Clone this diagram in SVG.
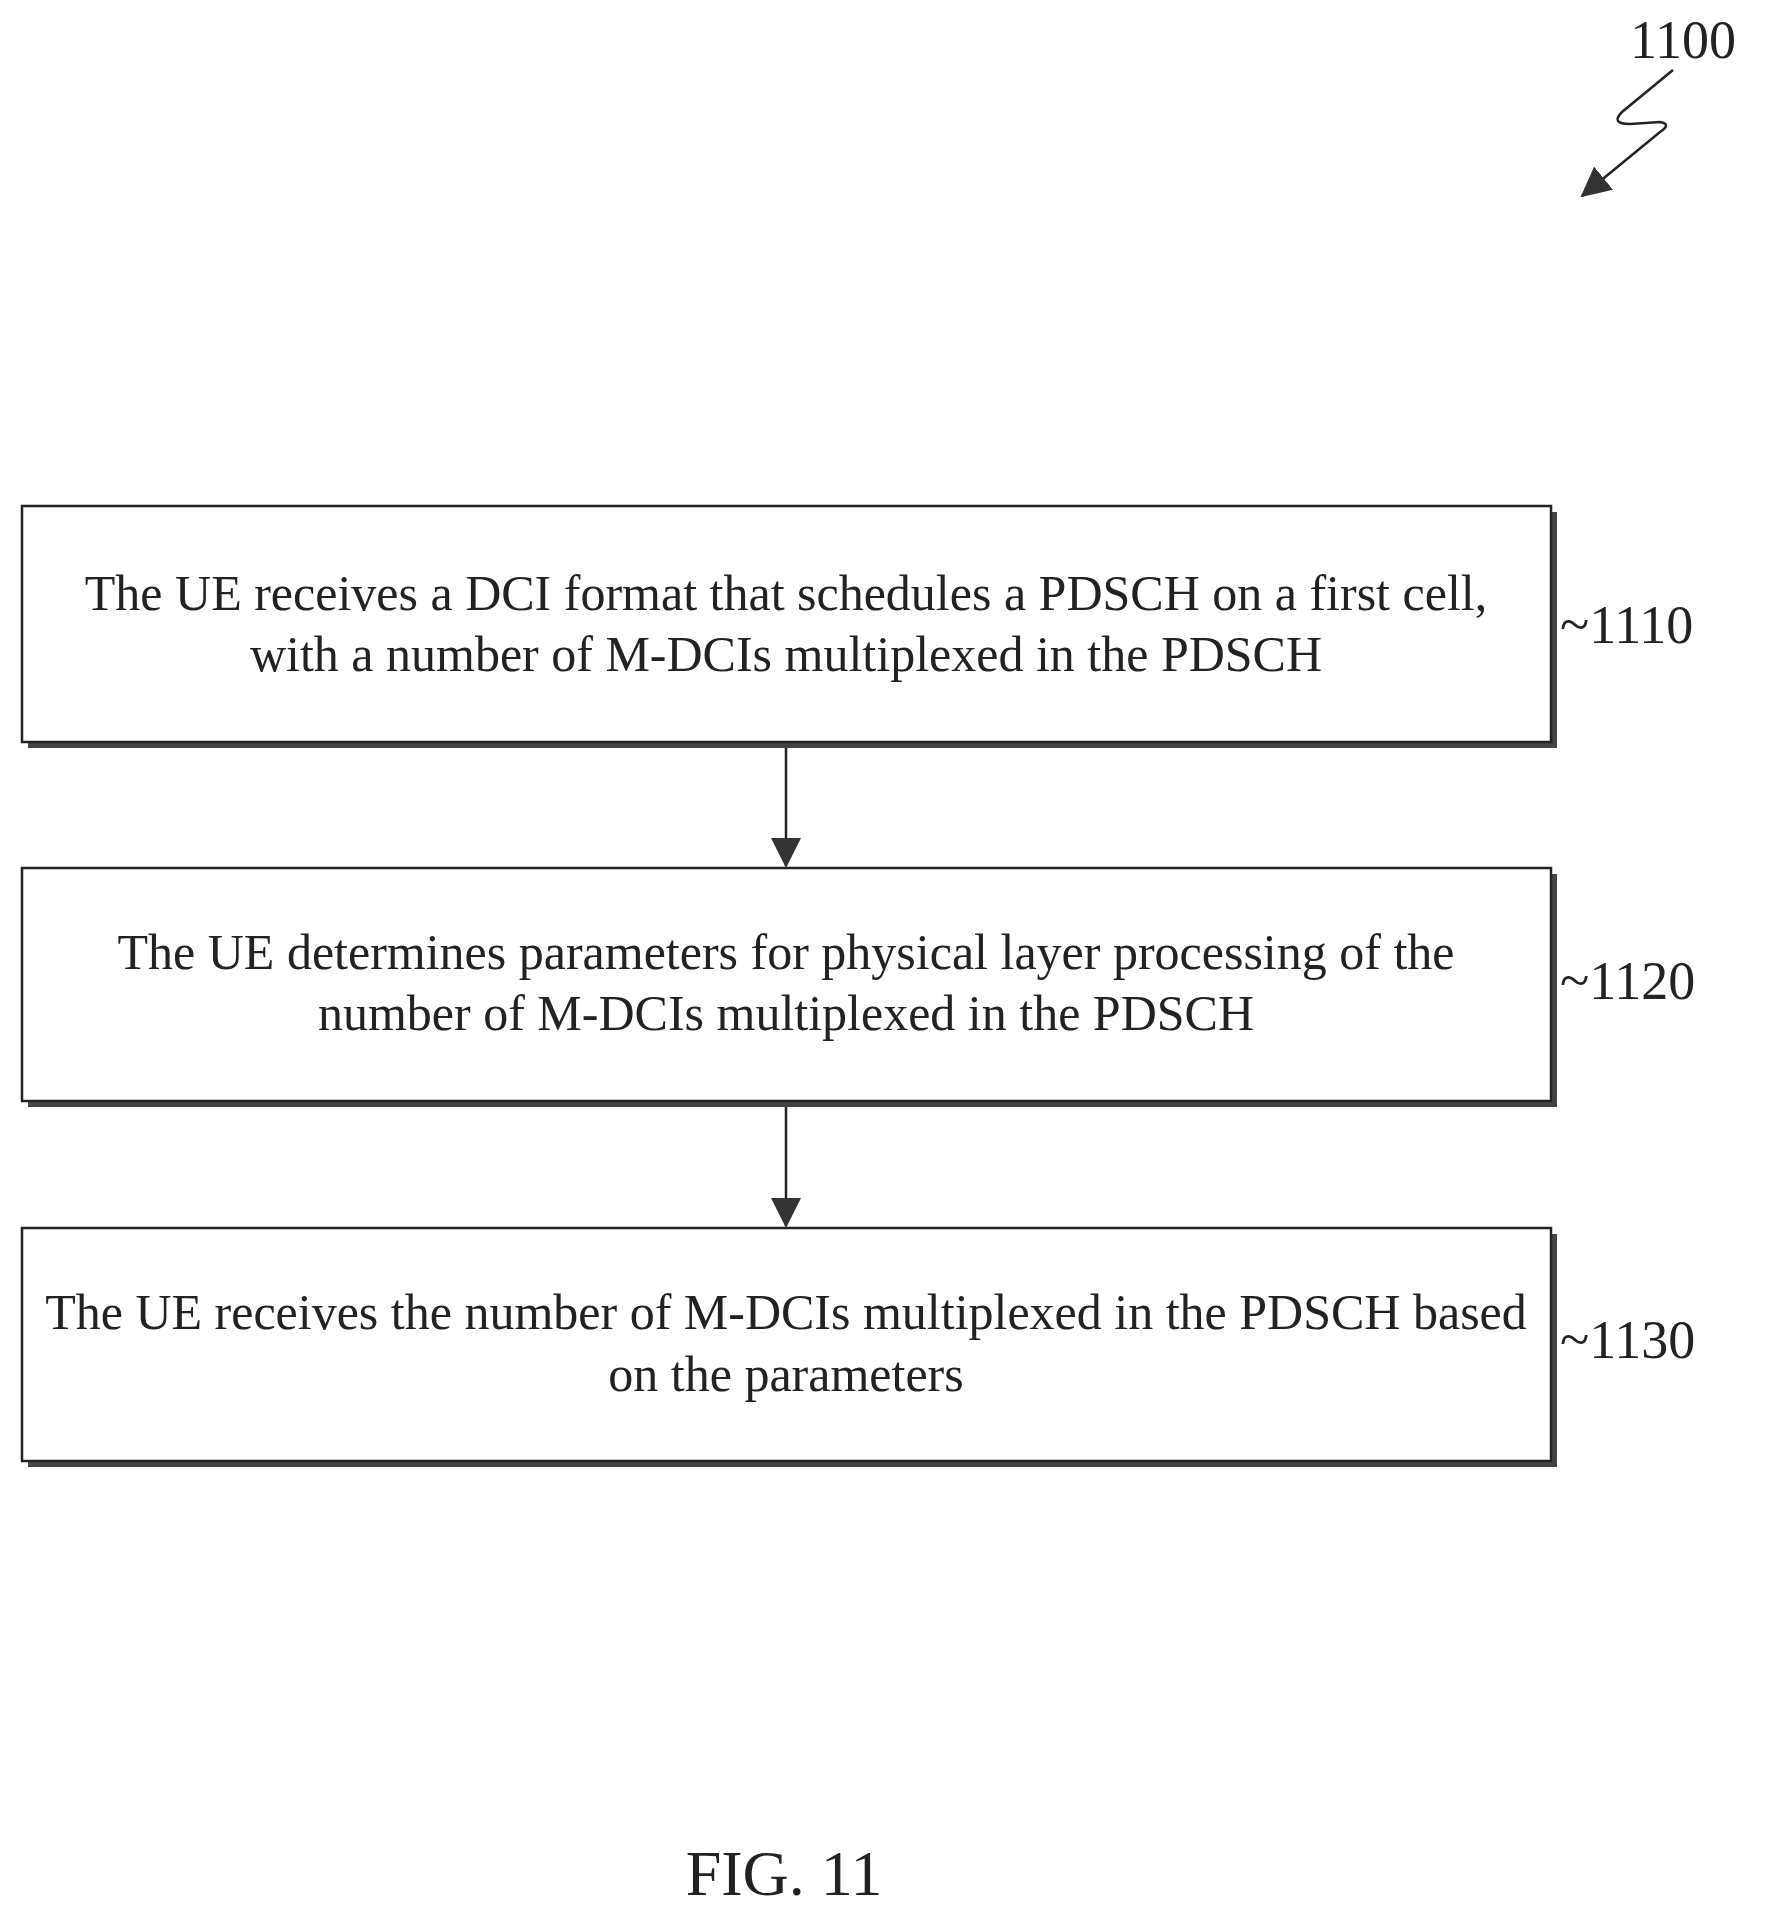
<svg xmlns="http://www.w3.org/2000/svg" width="1765" height="1925" viewBox="0 0 1765 1925">
<style>
.box{fill:#fff;stroke:#222;stroke-width:2.5}
.sh{fill:#444}
.t{font-family:"Liberation Serif",serif;font-size:50px;fill:#222;text-anchor:middle}
.lbl{font-family:"Liberation Serif",serif;font-size:54px;fill:#222}
.c{stroke:#222;stroke-width:2.5;fill:none}
</style>
<defs>
<marker id="ah2" markerWidth="30" markerHeight="30" refX="28" refY="15" orient="auto" markerUnits="userSpaceOnUse" viewBox="0 0 30 30"><path d="M0,0 L30,15 L0,30 z" fill="#333"/></marker></defs>
<rect width="1765" height="1925" fill="#fff"/>
<g id="n1110"><rect class="sh" x="28" y="512" width="1529" height="236"/><rect class="box" x="22" y="506" width="1529" height="236"/>
<text class="t" x="786" y="610">The UE receives a DCI format that schedules a PDSCH on a first cell,</text>
<text class="t" x="786" y="671">with a number of M-DCIs multiplexed in the PDSCH</text>
<text class="lbl" x="1560" y="643">~1110</text></g>
<g id="n1120"><rect class="sh" x="28" y="874" width="1529" height="233"/><rect class="box" x="22" y="868" width="1529" height="233"/>
<text class="t" x="786" y="969">The UE determines  parameters for physical layer processing of the</text>
<text class="t" x="786" y="1030">number of M-DCIs multiplexed in the PDSCH</text>
<text class="lbl" x="1560" y="999">~1120</text></g>
<g id="n1130"><rect class="sh" x="28" y="1234" width="1529" height="233"/><rect class="box" x="22" y="1228" width="1529" height="233"/>
<text class="t" x="786" y="1329">The UE receives the number of M-DCIs multiplexed in the PDSCH based</text>
<text class="t" x="786" y="1391">on the parameters</text>
<text class="lbl" x="1560" y="1358">~1130</text></g>
<g id="connectors">
<line class="c" x1="786" y1="748" x2="786" y2="866" marker-end="url(#ah2)"/>
<line class="c" x1="786" y1="1107" x2="786" y2="1226" marker-end="url(#ah2)"/>
<path class="c" d="M1673,70 L1622,112 Q1610,124 1630,124 L1660,122 Q1672,124 1660,132 L1582,196" marker-end="url(#ah2)"/>
</g>
<text class="lbl" x="1630" y="58">1100</text>
<text class="t" x="784" y="1895" style="font-size:64px">FIG. 11</text>
</svg>
